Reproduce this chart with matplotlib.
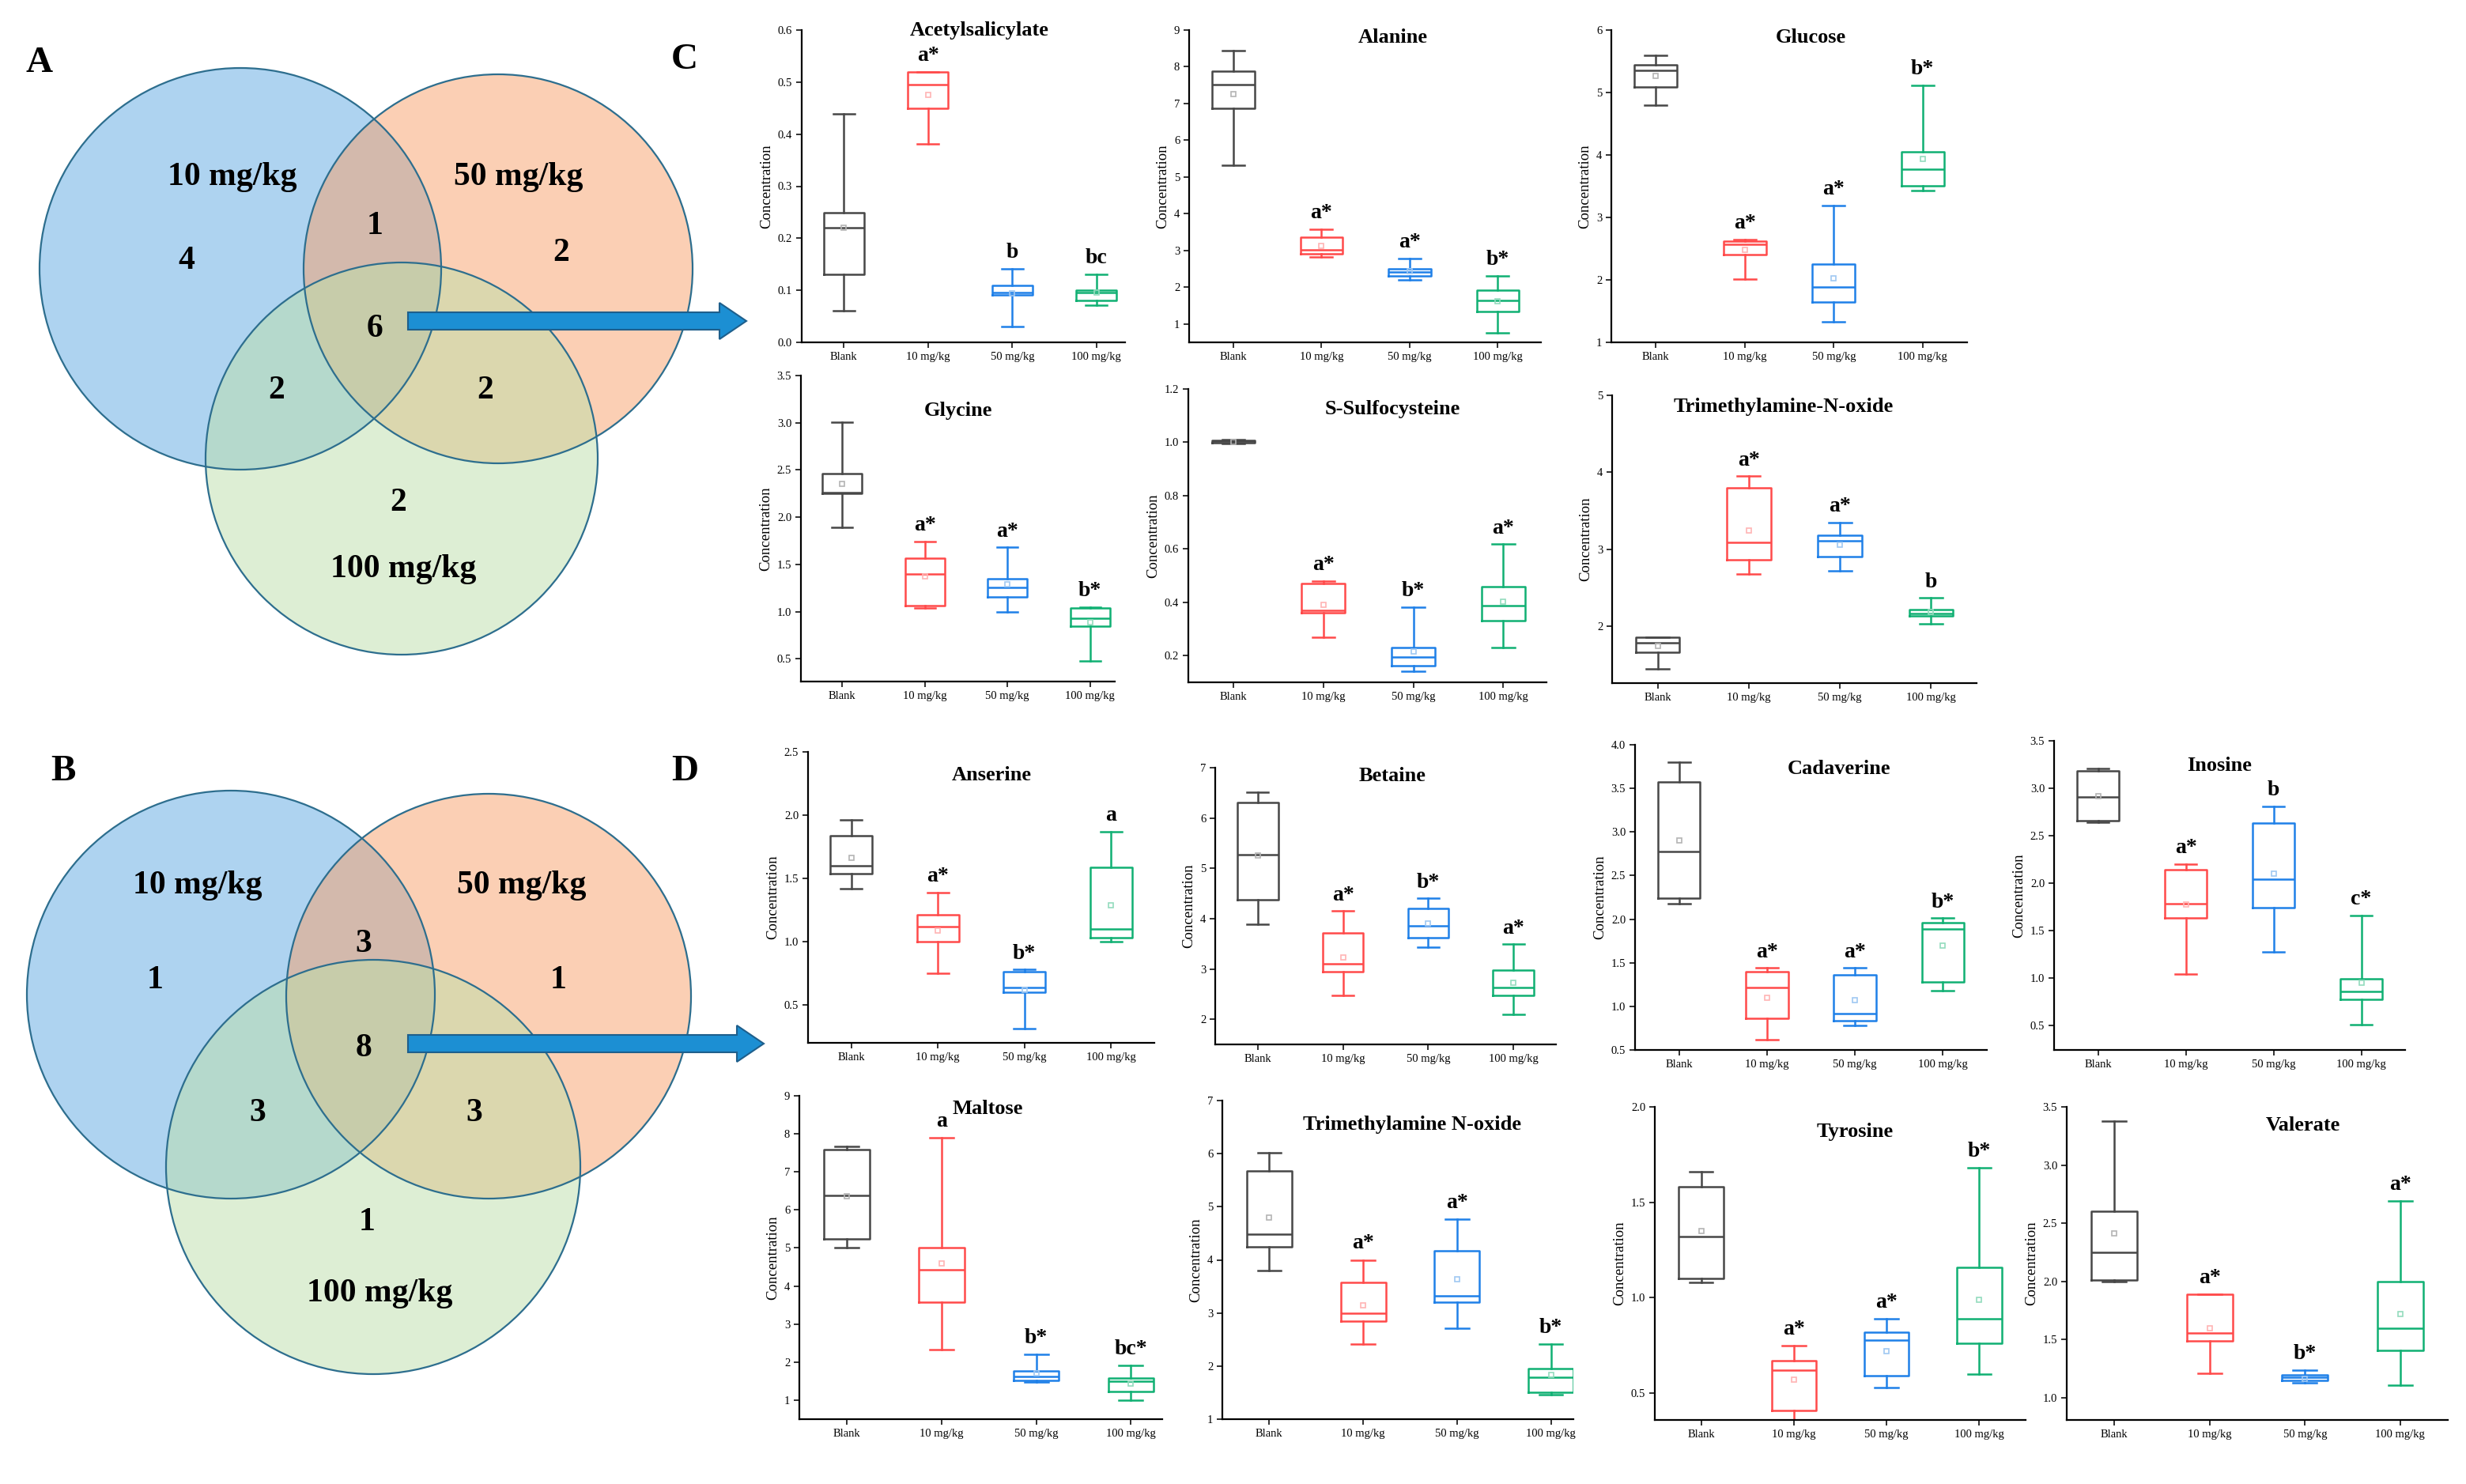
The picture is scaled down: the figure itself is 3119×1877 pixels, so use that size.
import matplotlib
matplotlib.use('Agg')
import matplotlib.pyplot as plt
from matplotlib.patches import Circle, FancyArrow
import numpy as np

plt.rcParams['font.family'] = ['Liberation Serif', 'DejaVu Serif']

W, H = 3119, 1877

groups = ['Blank', '10 mg/kg', '50 mg/kg', '100 mg/kg']
colors = ['#474747', '#ff4a4a', '#1f80e8', '#10b073']
mean_colors = ['#b4b4b4', '#ffb4b4', '#a0c8f2', '#94dcbe']

# Venn counts: only 10, only 50, only 100, 10&50, 10&100, 50&100, all three
venn_sets = ['10 mg/kg', '50 mg/kg', '100 mg/kg']
venn_a_counts = [4, 2, 2, 1, 2, 2, 6]
venn_b_counts = [1, 1, 1, 3, 3, 3, 8]

# box stats per metabolite, rows: whisker low, Q1, median, Q3, whisker high, mean
acetylsalicylate = [[0.061, 0.381, 0.030, 0.071],
                    [0.131, 0.449, 0.091, 0.081],
                    [0.220, 0.495, 0.096, 0.096],
                    [0.249, 0.520, 0.110, 0.100],
                    [0.439, 0.520, 0.141, 0.131],
                    [0.220, 0.476, 0.094, 0.095]]
alanine = [[5.32, 2.82, 2.19, 0.76],
           [6.87, 2.90, 2.31, 1.35],
           [7.52, 3.02, 2.41, 1.63],
           [7.89, 3.37, 2.51, 1.91],
           [8.43, 3.57, 2.78, 2.31],
           [7.26, 3.12, 2.44, 1.61]]
glucose = [[4.80, 2.01, 1.33, 3.43],
           [5.09, 2.40, 1.65, 3.51],
           [5.35, 2.57, 1.89, 3.77],
           [5.44, 2.62, 2.25, 4.05],
           [5.59, 2.65, 3.19, 5.11],
           [5.27, 2.48, 2.03, 3.94]]
glycine = [[1.89, 1.04, 1.00, 0.48],
           [2.25, 1.06, 1.16, 0.85],
           [2.26, 1.40, 1.26, 0.93],
           [2.46, 1.57, 1.35, 1.04],
           [3.01, 1.74, 1.68, 1.05],
           [2.35, 1.37, 1.29, 0.89]]
s_sulfocysteine = [[0.996, 0.269, 0.141, 0.230],
                   [0.998, 0.362, 0.161, 0.330],
                   [1.003, 0.371, 0.195, 0.387],
                   [1.008, 0.471, 0.230, 0.460],
                   [1.010, 0.480, 0.382, 0.619],
                   [1.000, 0.390, 0.217, 0.403]]
tmao_c = [[1.45, 2.68, 2.72, 2.03],
          [1.66, 2.86, 2.90, 2.13],
          [1.78, 3.09, 3.11, 2.16],
          [1.86, 3.80, 3.18, 2.22],
          [1.86, 3.95, 3.35, 2.37],
          [1.74, 3.24, 3.06, 2.18]]
anserine = [[1.42, 0.75, 0.31, 1.00],
            [1.54, 1.00, 0.60, 1.03],
            [1.60, 1.12, 0.64, 1.10],
            [1.84, 1.21, 0.76, 1.59],
            [1.96, 1.39, 0.78, 1.87],
            [1.66, 1.09, 0.62, 1.29]]
betaine = [[3.89, 2.47, 3.43, 2.09],
           [4.38, 2.94, 3.62, 2.47],
           [5.27, 3.11, 3.85, 2.63],
           [6.31, 3.71, 4.20, 2.97],
           [6.51, 4.15, 4.40, 3.49],
           [5.26, 3.23, 3.91, 2.72]]
cadaverine = [[2.18, 0.62, 0.78, 1.18],
              [2.24, 0.86, 0.84, 1.28],
              [2.78, 1.22, 0.92, 1.89],
              [3.57, 1.40, 1.36, 1.96],
              [3.80, 1.44, 1.44, 2.01],
              [2.90, 1.10, 1.07, 1.70]]
inosine = [[2.64, 1.04, 1.27, 0.51],
           [2.66, 1.63, 1.74, 0.77],
           [2.91, 1.78, 2.04, 0.86],
           [3.18, 2.14, 2.63, 0.99],
           [3.21, 2.20, 2.81, 1.66],
           [2.92, 1.77, 2.10, 0.95]]
maltose = [[5.01, 2.32, 1.48, 1.00],
           [5.23, 3.57, 1.51, 1.22],
           [6.38, 4.42, 1.62, 1.50],
           [7.59, 5.00, 1.76, 1.58],
           [7.68, 7.90, 2.21, 1.91],
           [6.37, 4.60, 1.71, 1.44]]
tmao_d = [[3.80, 2.42, 2.71, 1.46],
          [4.25, 2.84, 3.20, 1.50],
          [4.49, 2.99, 3.33, 1.79],
          [5.68, 3.58, 4.17, 1.96],
          [6.02, 4.00, 4.77, 2.42],
          [4.79, 3.14, 3.64, 1.83]]
tyrosine = [[1.08, 0.36, 0.53, 0.60],
            [1.10, 0.41, 0.59, 0.76],
            [1.32, 0.62, 0.78, 0.89],
            [1.58, 0.67, 0.82, 1.16],
            [1.66, 0.75, 0.89, 1.68],
            [1.35, 0.57, 0.72, 0.99]]
valerate = [[2.00, 1.21, 1.13, 1.11],
            [2.01, 1.49, 1.15, 1.41],
            [2.25, 1.56, 1.18, 1.60],
            [2.60, 1.89, 1.20, 2.00],
            [3.38, 1.89, 1.24, 2.69],
            [2.41, 1.60, 1.16, 1.72]]

letters = {
    'Acetylsalicylate': ['', 'a*', 'b', 'bc'],
    'Alanine': ['', 'a*', 'a*', 'b*'],
    'Glucose': ['', 'a*', 'a*', 'b*'],
    'Glycine': ['', 'a*', 'a*', 'b*'],
    'S-Sulfocysteine': ['', 'a*', 'b*', 'a*'],
    'Trimethylamine-N-oxide': ['', 'a*', 'a*', 'b'],
    'Anserine': ['', 'a*', 'b*', 'a'],
    'Betaine': ['', 'a*', 'b*', 'a*'],
    'Cadaverine': ['', 'a*', 'a*', 'b*'],
    'Inosine': ['', 'a*', 'b', 'c*'],
    'Maltose': ['', 'a', 'b*', 'bc*'],
    'Trimethylamine N-oxide': ['', 'a*', 'a*', 'b*'],
    'Tyrosine': ['', 'a*', 'a*', 'b*'],
    'Valerate': ['', 'a*', 'b*', 'a*'],
}

# layout: name, data, axes box in pixels (l, t, r, b), ylim, yticks, tick format, xmax, title pos
panels = [
    ('Acetylsalicylate', acetylsalicylate, (1014, 38, 1423, 433), (0, 0.6), np.arange(0, 0.61, 0.1), '%.1f', 3.34, (0.55, 1.0)),
    ('Alanine', alanine, (1504, 38, 1949, 433), (0.5, 9), np.arange(1, 10), '%d', 3.49, (0.58, 0.975)),
    ('Glucose', glucose, (2038, 38, 2488, 433), (1, 6), np.arange(1, 7), '%d', 3.5, (0.56, 0.975)),
    ('Glycine', glycine, (1013, 475, 1410, 862), (0.26, 3.5), np.arange(0.5, 3.51, 0.5), '%.1f', 3.3, (0.5, 0.885)),
    ('S-Sulfocysteine', s_sulfocysteine, (1503, 492, 1956, 863), (0.1, 1.2), np.arange(0.2, 1.21, 0.2), '%.1f', 3.48, (0.57, 0.93)),
    ('Trimethylamine-N-oxide', tmao_c, (2039, 500, 2500, 864), (1.26, 5), np.arange(2, 6), '%d', 3.5, (0.47, 0.96)),
    ('Anserine', anserine, (1022, 951, 1460, 1319), (0.2, 2.5), np.arange(0.5, 2.51, 0.5), '%.1f', 3.5, (0.53, 0.92)),
    ('Betaine', betaine, (1537, 971, 1968, 1321), (1.5, 7), np.arange(2, 8), '%d', 3.5, (0.52, 0.97)),
    ('Cadaverine', cadaverine, (2068, 942, 2513, 1328), (0.5, 4.0), np.arange(0.5, 4.01, 0.5), '%.1f', 3.5, (0.58, 0.92)),
    ('Inosine', inosine, (2598, 937, 3042, 1328), (0.24, 3.5), np.arange(0.5, 3.51, 0.5), '%.1f', 3.5, (0.47, 0.92)),
    ('Maltose', maltose, (1011, 1386, 1470, 1795), (0.5, 9), np.arange(1, 10), '%d', 3.33, (0.52, 0.96)),
    ('Trimethylamine N-oxide', tmao_d, (1546, 1392, 1990, 1795), (1, 7), np.arange(1, 8), '%d', 3.24, (0.54, 0.925)),
    ('Tyrosine', tyrosine, (2093, 1400, 2562, 1796), (0.36, 2.0), np.arange(0.5, 2.01, 0.5), '%.1f', 3.5, (0.54, 0.92)),
    ('Valerate', valerate, (2614, 1400, 3096, 1796), (0.81, 3.5), np.arange(1.0, 3.51, 0.5), '%.1f', 3.5, (0.62, 0.94)),
]

fig = plt.figure(figsize=(W / 100, H / 100), dpi=100)

# background axes in pixel coordinates for venn diagrams and arrows
bg = fig.add_axes([0, 0, 1, 1])
bg.set_xlim(0, W)
bg.set_ylim(H, 0)
bg.axis('off')

venn_fill = ['#5fa8e2', '#f8a06a', '#bcdfaa']
venn_a_circles = [(304, 340, 254), (630, 340, 246), (508, 580, 248)]
venn_a_setpos = [(294, 224), (656, 224), (510, 720)]
venn_a_regpos = [(236, 330), (710, 320), (504, 636), (474, 286), (350, 494), (614, 494), (474, 416)]
venn_b_circles = [(292, 1258, 258), (618, 1260, 256), (472, 1476, 262)]
venn_b_setpos = [(250, 1120), (660, 1120), (480, 1636)]
venn_b_regpos = [(196, 1240), (706, 1240), (464, 1546), (460, 1194), (326, 1408), (600, 1408), (460, 1326)]


def draw_venn(circles, setpos, regpos, counts):
    for (cx, cy, r), fc in zip(circles, venn_fill):
        bg.add_patch(Circle((cx, cy), r, fc=fc, ec='none', alpha=0.5))
    for cx, cy, r in circles:
        bg.add_patch(Circle((cx, cy), r, fill=False, ec='#2d6e8e', lw=1.6))
    for (x, y), s in zip(setpos, venn_sets):
        bg.text(x, y, s, ha='center', va='center', fontsize=30, fontweight='bold')
    for (x, y), n in zip(regpos, counts):
        bg.text(x, y, str(n), ha='center', va='center', fontsize=30, fontweight='bold')


draw_venn(venn_a_circles, venn_a_setpos, venn_a_regpos, venn_a_counts)
draw_venn(venn_b_circles, venn_b_setpos, venn_b_regpos, venn_b_counts)

for x0, x1, y in [(516, 944, 406), (516, 966, 1320)]:
    bg.add_patch(FancyArrow(x0, y, x1 - x0, 0, width=22, head_width=46, head_length=34,
                            length_includes_head=True, fc='#1c8fd3', ec='#1e5f8c', lw=1.5))

for lab, x, y in [('A', 50, 80), ('B', 80, 976), ('C', 866, 76), ('D', 866, 976)]:
    bg.text(x, y, lab, ha='center', va='center', fontsize=34, fontweight='bold')

for name, data, (l, t, r, b), ylim, yticks, fmt, xmax, tpos in panels:
    ax = fig.add_axes([l / W, 1 - b / H, (r - l) / W, (b - t) / H])
    stats = []
    for i in range(4):
        stats.append(dict(whislo=data[0][i], q1=data[1][i], med=data[2][i], q3=data[3][i],
                          whishi=data[4][i], mean=data[5][i], fliers=[]))
    bp = ax.bxp(stats, positions=range(4), widths=0.48, capwidths=0.25, showmeans=True,
                boxprops=dict(lw=1.8), medianprops=dict(lw=1.8), whiskerprops=dict(lw=1.8),
                capprops=dict(lw=1.8))
    for i, c in enumerate(colors):
        bp['boxes'][i].set_color(c)
        bp['medians'][i].set_color(c)
        for w in bp['whiskers'][2 * i:2 * i + 2]:
            w.set_color(c)
        for cp in bp['caps'][2 * i:2 * i + 2]:
            cp.set_color(c)
        bp['means'][i].set(marker='s', markerfacecolor='none', markeredgecolor=mean_colors[i],
                           markersize=5, markeredgewidth=1.2)
    span = ylim[1] - ylim[0]
    for i, s in enumerate(letters[name]):
        if s:
            ax.text(i, data[4][i] + 0.02 * span, s, ha='center', va='bottom',
                    fontsize=20, fontweight='bold')
    ax.text(tpos[0], tpos[1], name, transform=ax.transAxes, ha='center', va='center',
            fontsize=19, fontweight='bold')
    ax.set_xlim(-0.5, xmax)
    ax.set_ylim(*ylim)
    ax.set_yticks(yticks)
    ax.set_yticklabels([fmt % v for v in yticks])
    ax.set_xticks(range(4))
    ax.set_xticklabels(groups)
    ax.set_ylabel('Concentration', fontsize=13.5)
    ax.tick_params(direction='out', length=5, width=1.3, labelsize=10.5, color='#222222')
    for sp in ['top', 'right']:
        ax.spines[sp].set_visible(False)
    for sp in ['left', 'bottom']:
        ax.spines[sp].set_linewidth(1.6)

fig.savefig('out.png', dpi=100)
